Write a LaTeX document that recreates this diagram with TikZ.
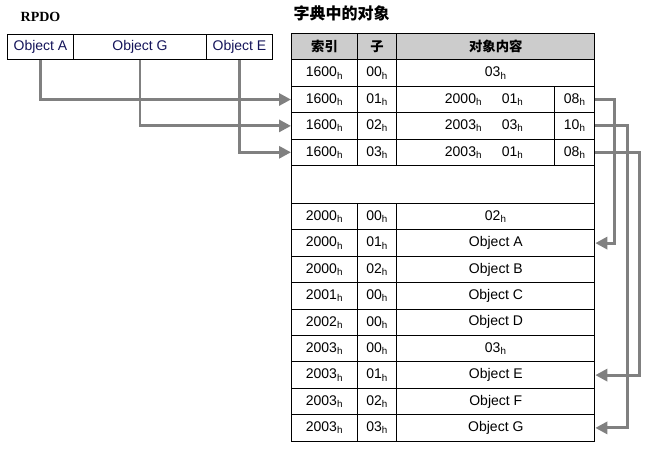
\documentclass[tikz,border=0pt]{standalone}
\usepackage{fontspec}
\setmainfont{Liberation Sans}
\newfontfamily\cjk{Noto Sans CJK SC}
\newfontfamily\rpdofont{Liberation Serif}
\usetikzlibrary{positioning,arrows.meta}
\definecolor{headgray}{RGB}{204,204,204}
\definecolor{linkgray}{RGB}{128,128,128}
\definecolor{rpdoblue}{RGB}{20,20,90}
\newcommand{\hx}[1]{#1\textsubscript{h}}
\tikzset{
  cell/.style={
    draw, fill=white, line width=0.75pt,
    minimum width={#1*0.75pt},
    minimum height={19.8pt},
    inner sep=0pt,
    font=\fontsize{10.5}{12}\selectfont,
  },
  head cell/.style={
    cell=#1, fill=headgray,
    font=\cjk\bfseries\fontsize{10}{12}\selectfont,
  },
  link/.style={
    draw=linkgray, line width=2.2pt,
    -{Triangle[length=9pt,width=9pt]},
  },
}

\begin{document}
\begin{tikzpicture}[x=0.75pt, y=-0.75pt, node distance=-0.75pt]
        \useasboundingbox (0,0) rectangle (647,454);

        % RPDO
        \node [font=\rpdofont\bfseries\fontsize{10.5}{12}\selectfont, anchor=west] (rpdo) at (16,17) {RPDO};
        \node [cell=66, minimum height=19pt, anchor=north west, text=rpdoblue] (rpdoA) at (7,34) {Object A};
        \node [cell=133, minimum height=19pt, right=of rpdoA, text=rpdoblue] (rpdoG) {Object G};
        \node [cell=66, minimum height=19pt, right=of rpdoG, text=rpdoblue] (rpdoE) {Object E};

        % dictionary
        \node [font=\cjk\bfseries\fontsize{12}{14}\selectfont, anchor=west] (title) at (289,13) {字典中的对象};
        \node [head cell=66, anchor=north west] (hIdx) at (291,33) {索引};
        \node [head cell=39.3, right=of hIdx] (hSub) {子};
        \node [head cell=198, right=of hSub] (hVal) {对象内容};

        \node [cell=66, below=of hIdx] (p0i) {\hx{1600}};
        \node [cell=39.3, right=of p0i] (p0s) {\hx{00}};
        \node [cell=198, right=of p0s] (p0v) {\hx{03}};

        \node [cell=66, below=of p0i] (p1i) {\hx{1600}};
        \node [cell=39.3, right=of p1i] (p1s) {\hx{01}};
        \node [cell=158, right=of p1s] (p1v) {\hspace{1.2em}\hx{2000}\hspace{1.4em}\hx{01}};
        \node [cell=40, right=of p1v] (p1l) {\hx{08}};

        \node [cell=66, below=of p1i] (p2i) {\hx{1600}};
        \node [cell=39.3, right=of p2i] (p2s) {\hx{02}};
        \node [cell=158, right=of p2s] (p2v) {\hspace{1.2em}\hx{2003}\hspace{1.4em}\hx{03}};
        \node [cell=40, right=of p2v] (p2l) {\hx{10}};

        \node [cell=66, below=of p2i] (p3i) {\hx{1600}};
        \node [cell=39.3, right=of p3i] (p3s) {\hx{03}};
        \node [cell=158, right=of p3s] (p3v) {\hspace{1.2em}\hx{2003}\hspace{1.4em}\hx{01}};
        \node [cell=40, right=of p3v] (p3l) {\hx{08}};

        \node [cell=303.3, minimum height=28.5pt, below=of p3i.south west, anchor=north west] (gap) {};

        \node [cell=66, below=of gap.south west, anchor=north west] (q0i) {\hx{2000}};
        \node [cell=39.3, right=of q0i] (q0s) {\hx{00}};
        \node [cell=198, right=of q0s] (q0v) {\hx{02}};

        \node [cell=66, below=of q0i] (q1i) {\hx{2000}};
        \node [cell=39.3, right=of q1i] (q1s) {\hx{01}};
        \node [cell=198, right=of q1s] (objA) {Object A};

        \node [cell=66, below=of q1i] (q2i) {\hx{2000}};
        \node [cell=39.3, right=of q2i] (q2s) {\hx{02}};
        \node [cell=198, right=of q2s] (objB) {Object B};

        \node [cell=66, below=of q2i] (q3i) {\hx{2001}};
        \node [cell=39.3, right=of q3i] (q3s) {\hx{00}};
        \node [cell=198, right=of q3s] (objC) {Object C};

        \node [cell=66, below=of q3i] (q4i) {\hx{2002}};
        \node [cell=39.3, right=of q4i] (q4s) {\hx{00}};
        \node [cell=198, right=of q4s] (objD) {Object D};

        \node [cell=66, below=of q4i] (q5i) {\hx{2003}};
        \node [cell=39.3, right=of q5i] (q5s) {\hx{00}};
        \node [cell=198, right=of q5s] (q5v) {\hx{03}};

        \node [cell=66, below=of q5i] (q6i) {\hx{2003}};
        \node [cell=39.3, right=of q6i] (q6s) {\hx{01}};
        \node [cell=198, right=of q6s] (objE) {Object E};

        \node [cell=66, below=of q6i] (q7i) {\hx{2003}};
        \node [cell=39.3, right=of q7i] (q7s) {\hx{02}};
        \node [cell=198, right=of q7s] (objF) {Object F};

        \node [cell=66, below=of q7i] (q8i) {\hx{2003}};
        \node [cell=39.3, right=of q8i] (q8s) {\hx{03}};
        \node [cell=198, right=of q8s] (objG) {Object G};

        % mapping
        \draw [link] (rpdoA.south) |- (p1i.west);
        \draw [link] (rpdoG.south) |- (p2i.west);
        \draw [link] (rpdoE.south) |- (p3i.west);
        \draw [link] (p1l.east) -- ++(19,0) |- (objA.east);
        \draw [link] (p2l.east) -- ++(32,0) |- (objG.east);
        \draw [link] (p3l.east) -- ++(44,0) |- (objE.east);
      \end{tikzpicture}
\end{document}
